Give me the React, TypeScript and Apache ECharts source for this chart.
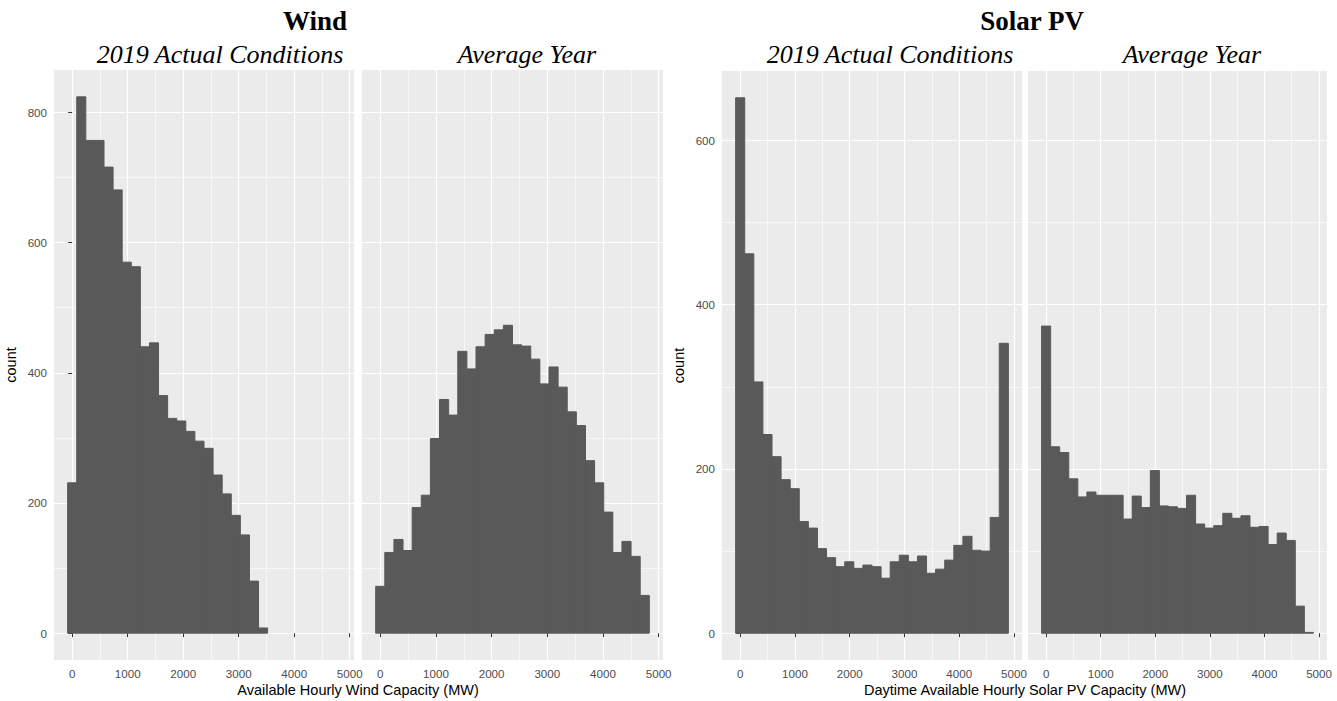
import React, { useEffect, useRef } from "react";
import * as echarts from "echarts";

// ---- data ----
const windBinWidth = 163.8;
const solarBinWidth = 166;

const windActual = [231, 824, 757, 757, 716, 681, 570, 563, 440, 446, 365, 330, 326, 310, 295, 284, 243, 214, 181, 151, 80, 8, 0, 0, 0, 0, 0, 0, 0, 0];
const windAverage = [72, 124, 144, 127, 193, 212, 299, 359, 335, 433, 406, 440, 459, 466, 473, 443, 441, 421, 383, 409, 378, 340, 319, 265, 231, 186, 124, 141, 118, 58];
const solarActual = [652, 462, 306, 242, 215, 187, 176, 136, 128, 103, 92, 81, 87, 79, 83, 81, 67, 87, 95, 87, 94, 73, 78, 89, 107, 118, 101, 100, 141, 353];
const solarAverage = [374, 227, 220, 188, 166, 172, 168, 168, 168, 139, 167, 153, 198, 155, 154, 152, 168, 133, 128, 131, 146, 140, 143, 129, 130, 108, 122, 113, 33, 1];

const xTicks = [0, 1000, 2000, 3000, 4000, 5000];
const xMinorTicks = [500, 1500, 2500, 3500, 4500];
const windYTicks = [0, 200, 400, 600, 800];
const windYMinor = [100, 300, 500, 700];
const solarYTicks = [0, 200, 400, 600];
const solarYMinor = [100, 300, 500];

const panelTitles = ["2019 Actual Conditions", "Average Year", "2019 Actual Conditions", "Average Year"];
const groupTitles = ["Wind", "Solar PV"];
const xAxisTitles = ["Available Hourly Wind Capacity (MW)", "Daytime Available Hourly Solar PV Capacity (MW)"];
const yAxisTitle = "count";

const SERIF = "'Liberation Serif', 'DejaVu Serif', serif";
const SANS = "'Liberation Sans', Arial, sans-serif";

function toBins(counts: number[], w: number) {
  return counts.map((c, i) => [i * w - w / 2, i * w + w / 2, c]);
}

function xRange(w: number, n: number) {
  const lo = -w / 2;
  const hi = (n - 0.5) * w;
  const e = (hi - lo) * 0.05;
  return [lo - e, hi + e];
}
function yRange(a: number[], b: number[]) {
  const m = Math.max(...a, ...b);
  return [-m * 0.05, m * 1.05];
}

const plain = (v: number) => String(Math.round(v));

export default function App() {
  const ref = useRef<HTMLDivElement>(null);
  useEffect(() => {
    if (!ref.current) return;
    const chart = echarts.init(ref.current, null, { renderer: "svg" });

    const panels = [
      { counts: windActual, w: windBinWidth, yr: yRange(windActual, windAverage), yt: windYTicks, ym: windYMinor, grid: { left: 54, top: 70, width: 300, height: 590 }, yName: true },
      { counts: windAverage, w: windBinWidth, yr: yRange(windActual, windAverage), yt: windYTicks, ym: windYMinor, grid: { left: 362, top: 70, width: 301, height: 590 }, yName: false },
      { counts: solarActual, w: solarBinWidth, yr: yRange(solarActual, solarAverage), yt: solarYTicks, ym: solarYMinor, grid: { left: 722, top: 71, width: 300, height: 589 }, yName: true },
      { counts: solarAverage, w: solarBinWidth, yr: yRange(solarActual, solarAverage), yt: solarYTicks, ym: solarYMinor, grid: { left: 1028, top: 71, width: 299, height: 589 }, yName: false },
    ];

    const grids: any[] = [];
    const xAxes: any[] = [];
    const yAxes: any[] = [];
    const series: any[] = [];

    panels.forEach((p, i) => {
      grids.push({ ...p.grid, show: true, backgroundColor: "#EBEBEB", borderWidth: 0, containLabel: false });
      const xr = xRange(p.w, p.counts.length);
      xAxes.push({
        type: "value", gridIndex: i, min: xr[0], max: xr[1], position: "bottom",
        axisLine: { show: false },
        axisTick: { show: true, length: 4, lineStyle: { color: "#333333", width: 1 }, customValues: xTicks },
        axisLabel: { show: true, margin: 7, color: "#4D4D4D", fontSize: 11.6, fontFamily: SANS, customValues: xTicks, formatter: plain },
        splitLine: { show: true, lineStyle: { color: "#FFFFFF", width: 1.2 } },
      });
      xAxes.push({
        type: "value", gridIndex: i, min: xr[0], max: xr[1], position: "bottom",
        axisLine: { show: false },
        axisTick: { show: false, customValues: xMinorTicks },
        axisLabel: { show: false },
        splitLine: { show: true, lineStyle: { color: "#FFFFFF", width: 0.6 } },
      });
      yAxes.push({
        type: "value", gridIndex: i, min: p.yr[0], max: p.yr[1], position: "left",
        axisLine: { show: false },
        axisTick: { show: p.yName, length: 4, lineStyle: { color: "#333333", width: 1 }, customValues: p.yt },
        axisLabel: { show: p.yName, margin: 7, color: "#4D4D4D", fontSize: 11.6, fontFamily: SANS, customValues: p.yt, formatter: plain },
        splitLine: { show: true, lineStyle: { color: "#FFFFFF", width: 1.2 } },
        name: p.yName ? yAxisTitle : "",
        nameLocation: "middle",
        nameGap: 36,
        nameRotate: 90,
        nameTextStyle: { color: "#000000", fontSize: 14.5, fontFamily: SANS },
      });
      yAxes.push({
        type: "value", gridIndex: i, min: p.yr[0], max: p.yr[1], position: "left",
        axisLine: { show: false },
        axisTick: { show: false, customValues: p.ym },
        axisLabel: { show: false },
        splitLine: { show: true, lineStyle: { color: "#FFFFFF", width: 0.6 } },
      });
      series.push({
        type: "custom",
        xAxisIndex: i * 2,
        yAxisIndex: i * 2,
        data: toBins(p.counts, p.w),
        encode: { x: [0, 1], y: 2 },
        renderItem: (params: any, api: any) => {
          const x0 = api.value(0);
          const x1 = api.value(1);
          const c = api.value(2);
          if (!c) return null;
          const a = api.coord([x0, c]);
          const b = api.coord([x1, 0]);
          return {
            type: "rect",
            shape: { x: a[0], y: a[1], width: b[0] - a[0], height: b[1] - a[1] },
            style: { fill: "#595959", stroke: "#595959", lineWidth: 1 },
          };
        },
      });
    });

    const stripX = [220, 527, 890, 1192];
    const groupX = [315, 1032];
    const axisTitleX = [358, 1025];

    const graphic: any[] = [];
    groupTitles.forEach((t, i) => {
      graphic.push({
        type: "text", x: groupX[i], y: 21,
        style: { text: t, fontFamily: SERIF, fontWeight: "bold", fontSize: 27, fill: "#000000", textAlign: "center", textVerticalAlign: "middle" },
      });
    });
    panelTitles.forEach((t, i) => {
      graphic.push({
        type: "text", x: stripX[i], y: 54,
        style: { text: t, fontFamily: SERIF, fontStyle: "italic", fontSize: 26, fill: "#000000", textAlign: "center", textVerticalAlign: "middle" },
      });
    });
    xAxisTitles.forEach((t, i) => {
      graphic.push({
        type: "text", x: axisTitleX[i], y: 690,
        style: { text: t, fontFamily: SANS, fontSize: 14.5, fill: "#000000", textAlign: "center", textVerticalAlign: "middle" },
      });
    });

    chart.setOption({
      animation: false,
      backgroundColor: "#FFFFFF",
      grid: grids,
      xAxis: xAxes,
      yAxis: yAxes,
      series,
      graphic,
    });
    return () => chart.dispose();
  }, []);

  return <div ref={ref} style={{ position: "absolute", left: 0, top: 0, width: 1337, height: 701 }} />;
}
